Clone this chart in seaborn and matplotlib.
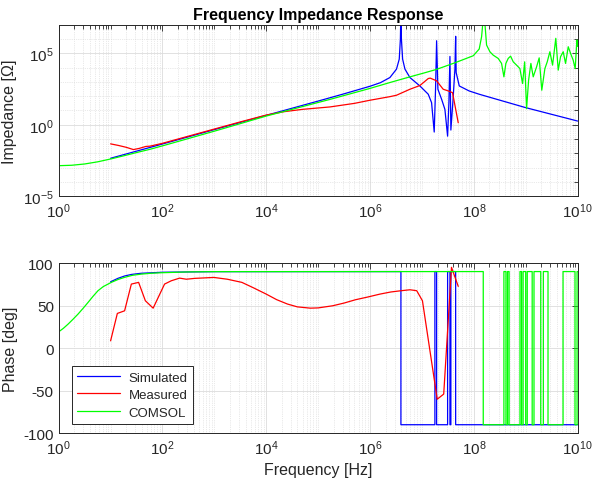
import numpy as np
import seaborn as sns
import matplotlib.pyplot as plt
from matplotlib.ticker import FixedLocator, LogFormatterMathtext, NullFormatter

# Impedance magnitude (exponents: log10 f, log10 |Z|)
sim_mag_logf = [1.0, 1.5, 2.0, 3.0, 4.0, 5.0, 5.5, 6.0, 6.2, 6.383, 6.51, 6.563, 6.585,
                6.595, 6.605, 6.628, 6.673, 6.769, 6.961, 7.122, 7.186, 7.237, 7.263,
                7.283, 7.308, 7.38, 7.443, 7.495, 7.52, 7.54, 7.558, 7.6, 7.636, 7.65,
                7.66, 7.72, 7.91, 8.104, 9.0, 10.0]
sim_mag_logz = [-2.35, -1.85, -1.35, -0.34, 0.66, 1.66, 2.17, 2.7, 2.95, 3.31, 3.9, 4.6, 6.0,
                8.0, 6.0, 4.6, 3.9, 3.31, 2.72, 2.14, 1.55, -0.51, 2.55,
                5.89, 2.49, 1.78, 1.08, -0.8, 1.55, 4.79, -0.37, 1.78, 3.9, 6.2,
                3.66, 2.72, 2.37, 2.14, 1.2, 0.26]

meas_mag_logf = [1.0, 1.15, 1.3, 1.44, 1.55, 1.68, 1.76, 2.0, 2.5, 3.0, 3.5, 4.0, 4.35, 4.7,
                 5.23, 5.7, 6.0, 6.383, 6.51, 6.769, 6.96, 7.03, 7.122, 7.16, 7.283, 7.41,
                 7.51, 7.59, 7.7]
meas_mag_logz = [-1.34, -1.45, -1.58, -1.74, -1.66, -1.52, -1.5, -1.3, -0.8, -0.3, 0.2, 0.68,
                 0.92, 1.08, 1.25, 1.5, 1.72, 1.97, 2.07, 2.49, 2.75, 2.96, 3.24, 3.27, 3.08,
                 2.49, 2.37, 2.25, 0.14]

com_mag_logf = [0.0, 0.25, 0.5, 0.75, 1.0, 1.25, 1.5, 1.76, 2.0, 3.0, 4.0, 5.23, 6.0, 6.383,
                6.77, 7.03, 7.28, 7.655, 7.99, 8.104, 8.15, 8.195, 8.246, 8.31, 8.374,
                8.47, 8.535, 8.58, 8.618, 8.663, 8.709, 8.76, 8.824, 8.888, 8.94, 8.98,
                9.017, 9.056, 9.1, 9.145, 9.21, 9.26, 9.31, 9.37, 9.415, 9.466, 9.518,
                9.58, 9.627, 9.672, 9.723, 9.768, 9.82, 9.865, 9.915, 9.954, 9.987, 10.0]
com_mag_logz = [-2.87, -2.84, -2.75, -2.6, -2.4, -2.18, -1.95, -1.72, -1.48, -0.45, 0.61,
                1.78, 2.55, 2.96, 3.36, 3.62, 3.88, 4.37, 4.84, 5.31, 6.17, 8.0, 5.59,
                5.12, 4.88, 4.65, 4.3, 3.36, 4.3, 4.65, 4.81, 4.41, 4.18, 3.94, 2.89,
                4.41, 1.13, 3.12, 4.3, 3.36, 4.06, 4.69, 2.42, 3.94, 4.41, 5.12, 4.18,
                6.06, 3.83, 4.77, 5.12, 4.3, 5.47, 5.0, 4.53, 3.94, 5.94, 5.5]

# Phase (log10 f, degrees)
sim_ph_logf = [1.0, 1.14, 1.27, 1.4, 1.59, 2.0, 3.0, 6.595, 6.595, 7.25, 7.25, 7.283, 7.283,
               7.495, 7.495, 7.54, 7.54, 7.558, 7.558, 7.65, 7.65, 10.0]
sim_ph_deg = [78, 82, 84.8, 86.6, 88, 89.2, 89.9, 90, -90, -90, 90, 90, -90,
              -90, 90, 90, -90, -90, 90, 90, -90, -90]

meas_ph_logf = [1.0, 1.13, 1.27, 1.40, 1.54, 1.67, 1.82, 2.04, 2.17, 2.33, 2.46, 2.62, 2.99,
                3.25, 3.53, 3.75, 4.0, 4.2, 4.41, 4.6, 4.85, 5.0, 5.28, 5.5, 5.72, 5.95,
                6.19, 6.4, 6.6, 6.77, 6.9, 7.01, 7.295, 7.42, 7.57, 7.70]
meas_ph_deg = [8.6, 40.8, 43.9, 75.3, 77.3, 55.7, 47, 75.3, 79.2, 82.3, 81, 82, 83.1,
               81, 77.3, 71, 63.5, 57, 51.8, 48.5, 47, 47.3, 49.8, 53, 56.9, 60,
               63.5, 66, 67.5, 68.6, 67.5, 55.7, -60, -54, 95, 72.6]

com_ph_logf = [0.0, 0.09, 0.18, 0.27, 0.372, 0.47, 0.565, 0.66, 0.757, 0.86, 1.014, 1.14,
               1.27, 1.42, 1.59, 1.78, 1.97, 2.5, 3.0, 8.182,
               8.182, 8.58, 8.58, 8.62, 8.62, 8.65, 8.65, 8.68, 8.68, 8.89, 8.89, 8.92,
               8.92, 8.95, 8.95, 9.0, 9.0, 9.03, 9.03, 9.125, 9.125, 9.16, 9.16, 9.29,
               9.29, 9.34, 9.34, 9.43, 9.43, 9.72, 9.72, 9.95, 9.95, 9.99, 9.99, 10.0]
com_ph_deg = [19.2, 23.3, 28.2, 33.6, 40, 46.8, 53.7, 60.8, 67.5, 72.4, 77.3, 80.6,
              83.2, 85.6, 87, 88, 88.6, 89.6, 89.9, 90,
              -90, -90, 90, 90, -90, -90, 90, 90, -90, -90, 90, 90,
              -90, -90, 90, 90, -90, -90, 90, 90, -90, -90, 90, 90,
              -90, -90, 90, 90, -90, -90, 90, 90, -90, -90, 90, 90]

sns.set_style("white")
plt.rcParams['font.family'] = ['Liberation Sans', 'DejaVu Sans']
plt.rcParams['mathtext.fontset'] = 'custom'
plt.rcParams['mathtext.rm'] = 'Liberation Sans'
plt.rcParams['axes.unicode_minus'] = False

dark = '#262626'
fig = plt.figure(figsize=(5.93, 4.89), dpi=100)
ax1 = fig.add_axes([0.099, 0.597, 0.875, 0.350])
ax2 = fig.add_axes([0.099, 0.112, 0.875, 0.348])

lw = 0.9
kw = dict(estimator=None, sort=False, linewidth=lw)
sns.lineplot(x=10 ** np.array(sim_mag_logf), y=10 ** np.array(sim_mag_logz), color='#0000ff', ax=ax1, **kw)
sns.lineplot(x=10 ** np.array(meas_mag_logf), y=10 ** np.array(meas_mag_logz), color='#ff0000', ax=ax1, **kw)
sns.lineplot(x=10 ** np.array(com_mag_logf), y=10 ** np.array(com_mag_logz), color='#00ff00', ax=ax1, **kw)

sns.lineplot(x=10 ** np.array(sim_ph_logf), y=sim_ph_deg, color='#0000ff', ax=ax2, **kw)
sns.lineplot(x=10 ** np.array(meas_ph_logf), y=meas_ph_deg, color='#ff0000', ax=ax2, **kw)
sns.lineplot(x=10 ** np.array(com_ph_logf), y=com_ph_deg, color='#00ff00', ax=ax2, **kw)

x_major = [10.0 ** k for k in range(0, 11, 2)]
x_minor = [m * 10.0 ** k for k in range(0, 10) for m in range(1, 10) if not (m == 1 and k % 2 == 0)]

for ax in (ax1, ax2):
    ax.set_xscale('log')
    ax.set_xlim(1, 1e10)
    ax.xaxis.set_major_locator(FixedLocator(x_major))
    ax.xaxis.set_minor_locator(FixedLocator(x_minor))
    ax.xaxis.set_major_formatter(LogFormatterMathtext())
    ax.xaxis.set_minor_formatter(NullFormatter())
    ax.grid(True, which='major', color='#dcdcdc', linestyle='-', linewidth=0.6)
    ax.grid(True, which='minor', color='#d4d4d4', linestyle=':', linewidth=0.5)
    ax.set_axisbelow(True)
    ax.tick_params(which='both', direction='in', top=True, right=True, colors=dark,
                   labelsize=11, width=0.6)
    ax.tick_params(which='major', length=4.5)
    ax.tick_params(which='minor', length=3)
    for s in ax.spines.values():
        s.set_color(dark)
        s.set_linewidth(0.7)
    ax.set_xlabel('')

ax1.set_yscale('log')
ax1.set_ylim(1e-5, 1e7)
ax1.yaxis.set_major_locator(FixedLocator([1e-5, 1e0, 1e5]))
ax1.yaxis.set_minor_locator(FixedLocator([10.0 ** k for k in range(-4, 7) if k % 5 != 0]))
ax1.yaxis.set_major_formatter(LogFormatterMathtext())
ax1.yaxis.set_minor_formatter(NullFormatter())
ax1.set_ylabel('Impedance [Ω]', fontsize=11.5, color=dark)
ax1.set_title('Frequency Impedance Response', fontsize=11.5, fontweight='bold', color='black', pad=4)

ax2.set_ylim(-100, 100)
ax2.set_yticks([-100, -50, 0, 50, 100])
ax2.yaxis.set_minor_locator(FixedLocator([]))
ax2.set_ylabel('Phase [deg]', fontsize=11.5, color=dark)
ax2.set_xlabel('Frequency [Hz]', fontsize=11.5, color=dark)

handles = ax2.get_lines()[:3]
leg = ax2.legend(handles, ['Simulated', 'Measured', 'COMSOL'], loc='lower left',
                 bbox_to_anchor=(0.025, 0.055), fontsize=9.5, frameon=True, fancybox=False,
                 framealpha=1, edgecolor=dark, handlelength=3.3, handletextpad=0.6,
                 borderaxespad=0, labelspacing=0.4, borderpad=0.4)
leg.get_frame().set_linewidth(0.7)

fig.savefig('out.png', dpi=100)
